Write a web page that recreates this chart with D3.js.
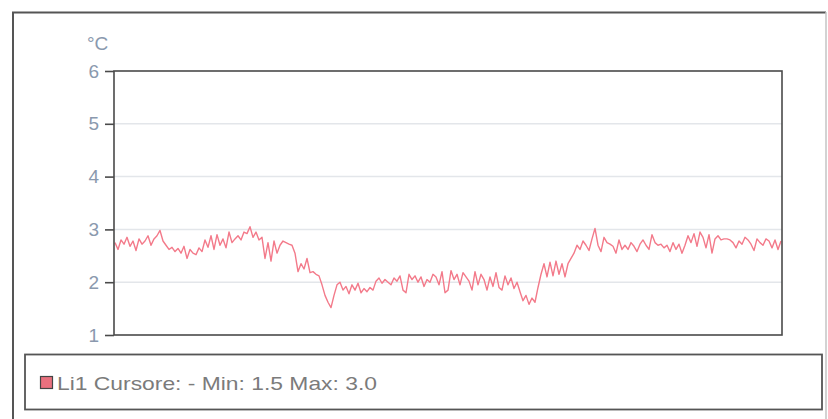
<!DOCTYPE html>
<html>
<head>
<meta charset="utf-8">
<script src="https://cdn.jsdelivr.net/npm/d3@7/dist/d3.min.js"></script>
<style>
html,body{margin:0;padding:0;background:#fff;}
svg{display:block;}
</style>
</head>
<body>
<svg id="chart" width="828" height="419"></svg>
<script>
const yTicks = [1, 2, 3, 4, 5, 6];
const unitLabel = "°C";
const seriesName = "Li1 Cursore: - Min: 1.5 Max: 3.0";
const values = [
2.75,2.62,2.80,2.72,2.85,2.68,2.78,2.60,2.82,2.72,
2.78,2.88,2.70,2.82,2.88,2.98,2.78,2.70,2.62,2.66,
2.58,2.64,2.55,2.68,2.45,2.62,2.55,2.52,2.65,2.58,
2.80,2.66,2.88,2.62,2.90,2.70,2.82,2.65,2.95,2.75,
2.82,2.88,2.80,2.95,2.92,3.05,2.85,2.95,2.80,2.85,
2.45,2.75,2.40,2.78,2.55,2.70,2.78,2.75,2.72,2.70,
2.55,2.20,2.35,2.25,2.45,2.18,2.20,2.15,2.12,1.95,
1.75,1.62,1.52,1.75,1.95,2.00,1.85,1.92,1.78,1.95,
1.85,1.98,1.80,1.88,1.82,1.90,1.85,2.02,2.08,1.98,
2.05,2.00,1.95,2.08,2.02,2.12,1.85,1.80,2.15,2.05,
2.12,2.00,2.10,1.92,2.05,2.00,2.15,2.10,1.95,2.20,
1.80,1.85,2.22,2.05,2.15,1.95,2.18,2.10,2.02,1.85,
2.20,1.95,2.15,2.05,1.85,2.10,1.92,2.18,1.90,1.85,
2.12,1.95,2.08,1.88,2.00,1.82,1.65,1.75,1.58,1.70,
1.62,1.90,2.15,2.35,2.10,2.38,2.12,2.40,2.15,2.35,
2.10,2.35,2.45,2.55,2.70,2.62,2.78,2.70,2.60,2.82,
3.02,2.70,2.58,2.85,2.75,2.72,2.68,2.55,2.80,2.62,
2.70,2.62,2.75,2.68,2.58,2.72,2.80,2.70,2.62,2.90,
2.75,2.70,2.72,2.65,2.70,2.58,2.75,2.62,2.72,2.55,
2.70,2.88,2.75,2.92,2.68,2.95,2.85,2.65,2.90,2.55,
2.82,2.88,2.80,2.82,2.82,2.80,2.75,2.65,2.78,2.72,
2.85,2.80,2.72,2.60,2.82,2.75,2.70,2.82,2.78,2.65,
2.80,2.62,2.78
];

const svg = d3.select("#chart");
const plot = {left: 114, right: 782, top: 71, bottom: 335};
const axisColor = "#8a99ae";
const frameColor = "#4a4a4a";
const font = "'Liberation Sans', Arial, sans-serif";

// outer frame
svg.append("path")
  .attr("d", "M13,419 L13,12.5 L826,12.5")
  .attr("fill", "none").attr("stroke", "#555").attr("stroke-width", 2);
svg.append("line").attr("x1", 826).attr("x2", 826).attr("y1", 12).attr("y2", 419)
  .attr("stroke", "#c4c4c4").attr("stroke-width", 1.5);

const x = d3.scaleLinear().domain([0, values.length - 1]).range([plot.left + 1, plot.right - 1]);
const y = d3.scaleLinear().domain([1, 6]).range([plot.bottom, plot.top]);

// gridlines
svg.append("g").selectAll("line").data(yTicks.filter(t => t > 1 && t < 6)).join("line")
  .attr("x1", plot.left).attr("x2", plot.right)
  .attr("y1", d => y(d)).attr("y2", d => y(d))
  .attr("stroke", "#e3e6ea").attr("stroke-width", 1.5);

// data line
const line = d3.line().x((d, i) => x(i)).y(d => y(d));
svg.append("path").datum(values)
  .attr("d", line).attr("fill", "none")
  .attr("stroke", "#f37a8a").attr("stroke-width", 1.4)
  .attr("stroke-linejoin", "round");

// plot frame
svg.append("rect")
  .attr("x", plot.left).attr("y", plot.top)
  .attr("width", plot.right - plot.left).attr("height", plot.bottom - plot.top)
  .attr("fill", "none").attr("stroke", frameColor).attr("stroke-width", 1.6);

// y axis
const yAxis = d3.axisLeft(y).tickValues(yTicks).tickSize(9).tickPadding(6).tickFormat(d3.format("d"));
const ga = svg.append("g").attr("transform", `translate(${plot.left},0)`).call(yAxis);
ga.select(".domain").remove();
ga.selectAll(".tick line").attr("stroke", frameColor).attr("stroke-width", 1.6);
ga.selectAll(".tick text").attr("fill", axisColor)
  .style("font-family", font).style("font-size", "19px");

svg.append("text").attr("x", 87).attr("y", 50).text(unitLabel)
  .attr("fill", axisColor).style("font-family", font).style("font-size", "19px");

// legend
svg.append("rect").attr("x", 25).attr("y", 354.5).attr("width", 797).attr("height", 55)
  .attr("fill", "#fff").attr("stroke", "#555").attr("stroke-width", 1.8);
svg.append("rect").attr("x", 40.5).attr("y", 376.5).attr("width", 12).attr("height", 12)
  .attr("fill", "#e9707e").attr("stroke", "#444").attr("stroke-width", 1.2);
svg.append("text").attr("x", 57).attr("y", 390).text(seriesName)
  .attr("textLength", 320).attr("lengthAdjust", "spacingAndGlyphs")
  .attr("fill", "#7b7b7b").style("font-family", font).style("font-size", "19px");
</script>
</body>
</html>
